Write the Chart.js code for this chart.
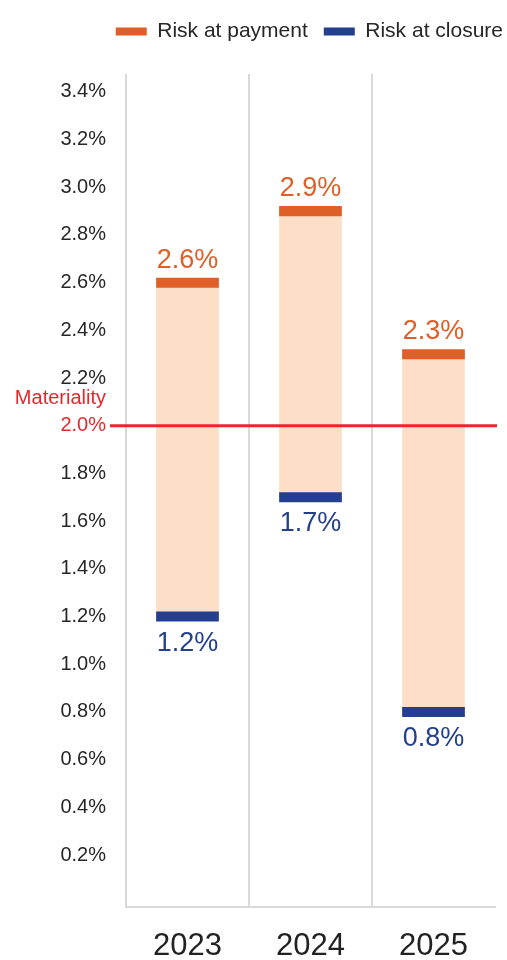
<!DOCTYPE html>
<html lang="en">
<head>
    <meta charset="UTF-8">
    <title>Risk at payment vs risk at closure</title>
    <script src="https://cdn.jsdelivr.net/npm/chart.js"></script>
    <style>
        html, body { margin: 0; padding: 0; background: #fff; }
        #wrap { width: 507px; height: 960px; }
    </style>
</head>
<body>
    <div id="wrap"><canvas id="chart"></canvas></div>

    <script>
        const years = ['2023', '2024', '2025'];
        const riskAtPayment = [2.6, 2.9, 2.3];
        const riskAtClosure = [1.2, 1.7, 0.8];
        const yTicks = [0, 0.2, 0.4, 0.6, 0.8, 1.0, 1.2, 1.4, 1.6, 1.8, 2.0, 2.2, 2.4, 2.6, 2.8, 3.0, 3.2, 3.4];
        const materiality = 2.0;

        const ORANGE = '#DE5F27';
        const BLUE = '#233F8E';
        const PEACH = '#FDDFC8';
        const RED = '#E8272C';
        const FONT = '"Liberation Sans", Arial, sans-serif';
        const CAP = 0.021; // half height of the end caps, in % units

        const pct = v => v.toFixed(1) + '%';

        // value labels above / below the caps, and the materiality line
        const overlay = {
            id: 'overlay',
            afterDatasetsDraw(chart) {
                const { ctx, scales: { x, y } } = chart;
                ctx.save();
                ctx.font = '27px ' + FONT;
                ctx.textAlign = 'center';
                ctx.textBaseline = 'alphabetic';
                years.forEach((yr, i) => {
                    const cx = x.getPixelForValue(i);
                    ctx.fillStyle = ORANGE;
                    ctx.fillText(pct(riskAtPayment[i]), cx, y.getPixelForValue(riskAtPayment[i] + CAP) - 10);
                    ctx.fillStyle = BLUE;
                    ctx.fillText(pct(riskAtClosure[i]), cx, y.getPixelForValue(riskAtClosure[i] - CAP) + 29);
                });

                const ly = y.getPixelForValue(materiality);
                ctx.strokeStyle = RED;
                ctx.lineWidth = 3;
                ctx.beginPath();
                ctx.moveTo(y.right - 16, ly);
                ctx.lineTo(chart.width - 10, ly);
                ctx.stroke();

                ctx.font = '20px ' + FONT;
                ctx.fillStyle = RED;
                ctx.textAlign = 'right';
                ctx.textBaseline = 'middle';
                ctx.fillText('Materiality', y.right - 20, ly - 27);
                ctx.restore();
            }
        };

        // extra room under the legend, and push the legend a little to the right
        const legendTweak = {
            id: 'legendTweak',
            beforeInit(chart) {
                const legend = chart.legend;
                const fit = legend.fit;
                legend.fit = function () {
                    fit.call(this);
                    this.height += 22;
                };
                const draw = legend.draw;
                legend.draw = function () {
                    this.ctx.save();
                    this.ctx.translate(24, 0);
                    draw.call(this);
                    this.ctx.restore();
                };
            }
        };

        const ctx = document.getElementById('chart').getContext('2d');
        new Chart(ctx, {
            type: 'bar',
            data: {
                labels: years,
                datasets: [
                    {
                        label: 'range',
                        data: years.map((_, i) => [riskAtClosure[i], riskAtPayment[i]]),
                        backgroundColor: PEACH,
                        order: 3
                    },
                    {
                        label: 'Risk at payment',
                        data: riskAtPayment.map(v => [v - CAP, v + CAP]),
                        backgroundColor: ORANGE,
                        order: 1
                    },
                    {
                        label: 'Risk at closure',
                        data: riskAtClosure.map(v => [v - CAP, v + CAP]),
                        backgroundColor: BLUE,
                        order: 1
                    }
                ]
            },
            options: {
                responsive: true,
                maintainAspectRatio: false,
                animation: false,
                grouped: false,
                barPercentage: 0.51,
                categoryPercentage: 1,
                layout: { padding: { top: 5, right: 12, bottom: 0, left: 0 } },
                plugins: {
                    tooltip: { enabled: false },
                    legend: {
                        position: 'top',
                        align: 'end',
                        labels: {
                            filter: item => item.text !== 'range',
                            boxWidth: 31,
                            boxHeight: 8,
                            padding: 16,
                            color: '#262626',
                            font: { family: FONT, size: 21 }
                        }
                    }
                },
                scales: {
                    x: {
                        afterFit: scale => { scale.height = 53; },
                        grid: {
                            offset: true,
                            drawTicks: false,
                            lineWidth: 2,
                            color: c => (c.type === 'tick' ? '#D9D9D9' : 'rgba(0,0,0,0)')
                        },
                        border: { display: true, color: '#D9D9D9', width: 2 },
                        ticks: {
                            padding: 24,
                            color: '#222',
                            font: { family: FONT, size: 31, lineHeight: 1 }
                        }
                    },
                    y: {
                        min: -0.018,
                        max: 3.475,
                        afterBuildTicks: scale => { scale.ticks = yTicks.map(v => ({ value: v })); },
                        afterFit: scale => { scale.width = 126; },
                        grid: { display: false, drawTicks: false },
                        border: { display: false },
                        ticks: {
                            padding: 20,
                            color: c => (Math.abs(c.tick.value - materiality) < 1e-9 ? RED : '#262626'),
                            font: { family: FONT, size: 20 },
                            callback: v => (v === 0 ? '' : pct(v))
                        }
                    }
                }
            },
            plugins: [overlay, legendTweak]
        });
    </script>
</body>
</html>
